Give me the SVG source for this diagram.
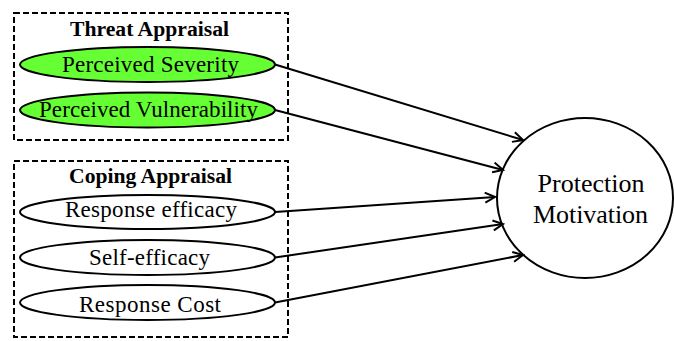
<svg xmlns="http://www.w3.org/2000/svg" width="674" height="341" viewBox="0 0 674 341">
<style>
.box{fill:none;stroke:#000;stroke-width:2;stroke-dasharray:6,3}
.node{stroke:#000;stroke-width:2}
.g{fill:#66ff33}
.w{fill:#fff}
.lbl{font-family:"Liberation Serif","Times New Roman",serif;font-size:23px;fill:#000;text-anchor:middle}
.hdr{font-family:"Liberation Serif","Times New Roman",serif;font-size:20px;font-weight:bold;fill:#000;text-anchor:middle}
.big{font-family:"Liberation Serif","Times New Roman",serif;font-size:26px;fill:#000;text-anchor:middle}
.edge{stroke:#000;stroke-width:2;fill:none;marker-end:url(#arr)}
</style>
<defs>
<marker id="arr" markerWidth="14" markerHeight="14" refX="11" refY="6" orient="auto" markerUnits="userSpaceOnUse">
<path d="M1,1 L11,6 L1,11" fill="none" stroke="#000" stroke-width="2"/>
</marker>
</defs>
<g id="threat-appraisal">
<rect class="box" x="14" y="13" width="274" height="127"/>
<text class="hdr" x="149.5" y="36" textLength="159" lengthAdjust="spacingAndGlyphs">Threat Appraisal</text>
</g>
<g id="coping-appraisal">
<rect class="box" x="14" y="161" width="274" height="176"/>
<text class="hdr" x="150.5" y="183" textLength="163" lengthAdjust="spacingAndGlyphs">Coping Appraisal</text>
</g>
<g id="perceived-severity">
<ellipse class="node g" cx="147.5" cy="64.5" rx="127.5" ry="17.5"/>
<text class="lbl" x="150.5" y="72" textLength="177">Perceived Severity</text>
</g>
<g id="perceived-vulnerability">
<ellipse class="node g" cx="147.5" cy="110" rx="127.5" ry="17.5"/>
<text class="lbl" x="148.5" y="117" textLength="219">Perceived Vulnerability</text>
</g>
<g id="response-efficacy">
<ellipse class="node w" cx="147.5" cy="212" rx="127.5" ry="17"/>
<text class="lbl" x="151" y="217" textLength="172">Response efficacy</text>
</g>
<g id="self-efficacy">
<ellipse class="node w" cx="147.5" cy="257.5" rx="127.5" ry="17.5"/>
<text class="lbl" x="149.5" y="265" textLength="121">Self-efficacy</text>
</g>
<g id="response-cost">
<ellipse class="node w" cx="147.5" cy="302.5" rx="127.5" ry="17.5"/>
<text class="lbl" x="150" y="312" textLength="142">Response Cost</text>
</g>
<g id="protection-motivation">
<ellipse class="node w" cx="585" cy="198" rx="88" ry="80"/>
<text class="big" x="591" y="192" textLength="107">Protection</text>
<text class="big" x="590.5" y="223" textLength="115">Motivation</text>
</g>
<g id="connectors">
<line class="edge" x1="275" y1="64.5" x2="523" y2="140"/>
<line class="edge" x1="275" y1="110" x2="503" y2="170"/>
<line class="edge" x1="275" y1="212" x2="495" y2="197"/>
<line class="edge" x1="275" y1="257.5" x2="503" y2="224"/>
<line class="edge" x1="275" y1="302.5" x2="523" y2="255"/>
</g>
</svg>
